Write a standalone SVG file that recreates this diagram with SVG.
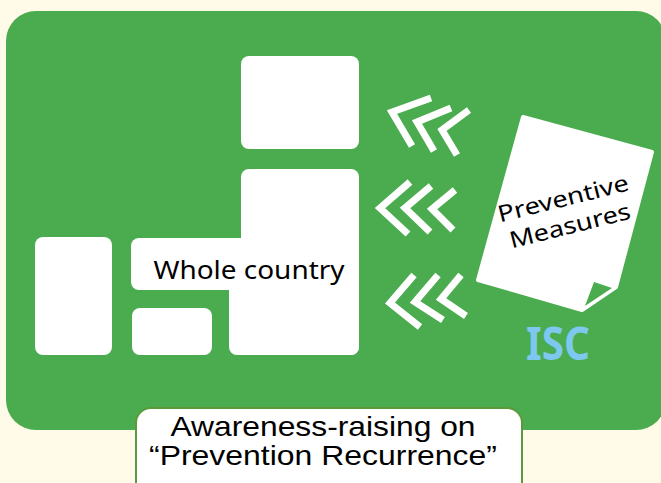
<svg xmlns="http://www.w3.org/2000/svg" width="661" height="483" viewBox="0 0 661 483">
<style>
.w{fill:#ffffff}
.chev{fill:none;stroke:#ffffff;stroke-width:7;stroke-linejoin:miter;stroke-linecap:butt}
.calib{font-family:"Noto Sans","Open Sans",sans-serif;fill:#000000}
.arial{font-family:"Liberation Sans",Arial,sans-serif;fill:#000000}
</style>
<rect x="0" y="0" width="661" height="483" fill="#fffbe8"/>
<g id="panel">
<rect x="6" y="11" width="660" height="419" rx="30" fill="#4aac4f"/>
</g>
<g id="region-top">
<rect class="w" x="241" y="56" width="118" height="93" rx="8"/>
</g>
<g id="region-left">
<rect class="w" x="35" y="237" width="77" height="118" rx="8"/>
</g>
<g id="region-small">
<rect class="w" x="132" y="308" width="80" height="47" rx="8"/>
</g>
<g id="whole-country">
<rect class="w" x="241" y="169" width="118" height="186" rx="8"/>
<rect class="w" x="131" y="238" width="125" height="52" rx="8"/>
<rect class="w" x="229" y="262" width="130" height="93" rx="8"/>
<text class="calib" x="249" y="279" font-size="25" text-anchor="middle" textLength="191" lengthAdjust="spacingAndGlyphs">Whole country</text>
</g>
<g id="connectors">
<polyline class="chev" points="431,98 392,112 412,146"/>
<polyline class="chev" points="451,108 417,122 434,151"/>
<polyline class="chev" points="469,110 442,130 457,155"/>
<polyline class="chev" points="410,182 380,208 408,234"/>
<polyline class="chev" points="431,186 405,208 430,232"/>
<polyline class="chev" points="455,190 432,209 453,230"/>
<polyline class="chev" points="414,275 390,303 420,327"/>
<polyline class="chev" points="438,275 415,302 443,320"/>
<polyline class="chev" points="461,275 441,299 466,316"/>
</g>
<g id="preventive-measures">
<path class="w" d="M523,117 L652,152 L616,287 L582,310 L478,280 Z" stroke="#ffffff" stroke-width="4" stroke-linejoin="round"/>
<polygon points="594,282 612,288 585,306" fill="#4aac4f"/>
<g transform="rotate(-14 567 214)">
<text class="calib" x="567" y="206" font-size="23" text-anchor="middle" textLength="134" lengthAdjust="spacingAndGlyphs">Preventive</text>
<text class="calib" x="567" y="234" font-size="23" text-anchor="middle" textLength="124" lengthAdjust="spacingAndGlyphs">Measures</text>
</g>
</g>
<g id="isc">
<text x="558" y="360" font-family="'Noto Sans','Open Sans',sans-serif" font-weight="bold" font-size="46" fill="#7ec8f0" text-anchor="middle" textLength="64" lengthAdjust="spacingAndGlyphs">ISC</text>
</g>
<g id="awareness">
<rect x="136" y="408" width="386" height="90" rx="15" fill="#ffffff" stroke="#5a9a3c" stroke-width="2"/>
<text class="arial" x="323" y="436" font-size="28" text-anchor="middle" textLength="305" lengthAdjust="spacingAndGlyphs">Awareness-raising on</text>
<text class="arial" x="323" y="465" font-size="28" text-anchor="middle" textLength="348" lengthAdjust="spacingAndGlyphs">“Prevention Recurrence”</text>
</g>
</svg>
